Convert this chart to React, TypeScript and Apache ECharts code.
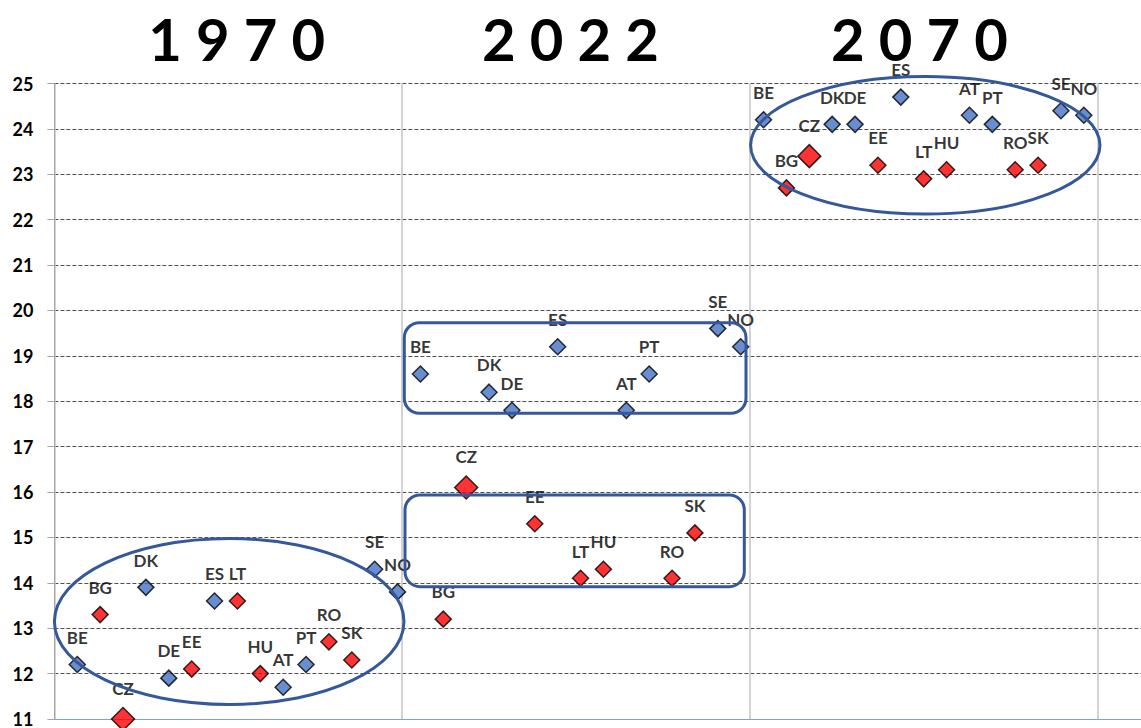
import React, { useEffect, useRef } from "react";
import * as echarts from "echarts";

// ---- data ----
const countries = ["BE", "BG", "CZ", "DK", "DE", "EE", "ES", "LT", "HU", "AT", "PT", "RO", "SK", "SE", "NO"];
const redCountries = ["BG", "CZ", "EE", "LT", "HU", "RO", "SK"];
const highlightedCountries = ["CZ"];
const years = ["1970", "2022", "2070"];
const titles = ["1 9 7 0", "2 0 2 2", "2 0 7 0"];
const values1970 = [12.2, 13.3, 11.0, 13.9, 11.9, 12.1, 13.6, 13.6, 12.0, 11.7, 12.2, 12.7, 12.3, 14.3, 13.8];
const values2022 = [18.6, 13.2, 16.1, 18.2, 17.8, 15.3, 19.2, 14.1, 14.3, 17.8, 18.6, 14.1, 15.1, 19.6, 19.2];
const values2070 = [24.2, 22.7, 23.4, 24.1, 24.1, 23.2, 24.7, 22.9, 23.1, 24.3, 24.1, 23.1, 23.2, 24.4, 24.3];
const yMin = 11;
const yMax = 25;

const BLUE = "#4472C4";
const RED = "#FF0000";
const SHAPE = "#34589a";
const FONT = "Lato";

export default function App() {
  const ref = useRef<HTMLDivElement>(null);

  useEffect(() => {
    if (!ref.current) return;
    const chart = echarts.init(ref.current, undefined, { renderer: "svg" });
    const groups = [values1970, values2022, values2070];

    const series = groups.map((vals, g) => ({
      type: "scatter",
      name: years[g],
      clip: false,
      symbol: "diamond",
      z: 3,
      itemStyle: { borderColor: "#000", borderWidth: 1.5 },
      label: {
        show: true,
        position: "top",
        distance: 10,
        formatter: "{b}",
        fontFamily: FONT,
        fontWeight: "bold",
        fontSize: 17,
        color: "#000",
      },
      data: vals.map((v, i) => ({
        name: countries[i],
        value: [g * countries.length + i + 1, v],
        symbolSize: highlightedCountries.includes(countries[i]) ? 23 : 16,
        itemStyle: { color: redCountries.includes(countries[i]) ? RED : BLUE },
      })),
    }));

    const titleCenters = [236.7, 570.5, 919.5];

    chart.setOption({
      animation: false,
      grid: { left: 54.4, right: 0, top: 83.5, bottom: 5.7, containLabel: false },
      xAxis: {
        type: "value",
        min: 0,
        max: 47.5,
        interval: 15.2,
        axisLabel: { show: false },
        axisTick: { show: false },
        axisLine: { show: true, lineStyle: { color: "#7ba0dc", width: 1 } },
        splitLine: {
          show: true,
          showMaxLine: false,
          lineStyle: { color: "#c4c4c4", width: 1.5, type: "solid" },
        },
      },
      yAxis: {
        type: "value",
        min: yMin,
        max: yMax,
        interval: 1,
        axisLine: { show: true, lineStyle: { color: "#a6a6a6", width: 1 } },
        axisTick: { show: true, length: 7, lineStyle: { color: "#a6a6a6" } },
        axisLabel: { fontFamily: FONT, fontWeight: "bold", fontSize: 18, color: "#000", margin: 21 },
        splitLine: { show: true, lineStyle: { color: "#505050", width: 1, type: [4, 2] } },
      },
      series,
      graphic: [
        {
          type: "ellipse",
          z: 100,
          silent: true,
          shape: { cx: 229.2, cy: 621.5, rx: 174.8, ry: 83 },
          style: { fill: "none", stroke: SHAPE, lineWidth: 3 },
        },
        {
          type: "rect",
          z: 100,
          silent: true,
          shape: { x: 404.3, y: 322.7, width: 341.7, height: 90.6, r: 15 },
          style: { fill: "none", stroke: SHAPE, lineWidth: 3 },
        },
        {
          type: "rect",
          z: 100,
          silent: true,
          shape: { x: 405, y: 495, width: 339.3, height: 91.7, r: 15 },
          style: { fill: "none", stroke: SHAPE, lineWidth: 3 },
        },
        {
          type: "ellipse",
          z: 100,
          silent: true,
          shape: { cx: 925.3, cy: 145.3, rx: 174.7, ry: 68.7 },
          style: { fill: "none", stroke: SHAPE, lineWidth: 3 },
        },
        ...titles.map((t, i) => ({
          type: "text",
          z: 100,
          silent: true,
          x: titleCenters[i],
          y: 38,
          style: {
            text: t,
            fontFamily: FONT,
            fontWeight: "bold",
            fontSize: 58,
            fill: "#000",
            textAlign: "center",
            textVerticalAlign: "middle",
          },
        })),
      ],
    });

    return () => chart.dispose();
  }, []);

  return (
    <div
      ref={ref}
      style={{ position: "fixed", left: 0, top: 0, width: 1141, height: 728, background: "#fff" }}
    />
  );
}
